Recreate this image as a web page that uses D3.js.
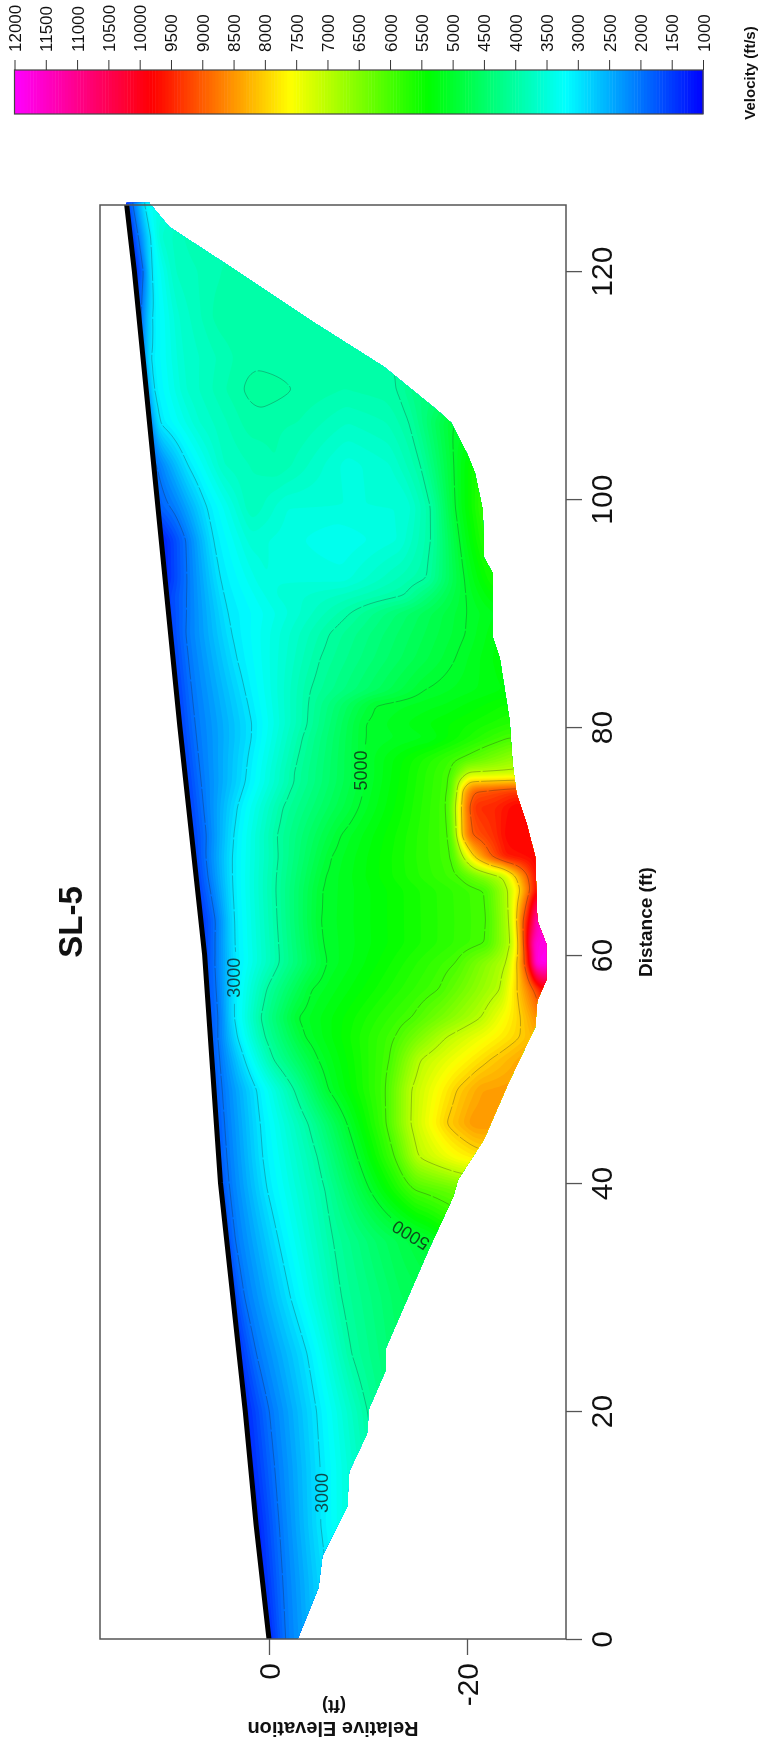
<!DOCTYPE html>
<html>
<head>
<meta charset="utf-8">
<style>
	body { margin: 0; background: #fff; }
	svg { filter: blur(0.4px); }
	text { font-family: "Liberation Sans", Arial, sans-serif; fill: #111; }
</style>
</head>
<body>
<div id="chart"></div>
<script src="https://cdn.jsdelivr.net/npm/d3@7"></script>
<script>

// colour bar
var barTicks = d3.range(1000, 12001, 500);
var barSpeeds = [1000, 3200, 5400, 7600, 9800, 12000];
var barColors = ["#0000ff", "#00ffff", "#00ff00", "#ffff00", "#ff0000", "#ff00ff"];

// ground surface and lower limit of the section (ft)
var surfaceDist = [0, 10, 20, 32, 40, 50, 60, 80, 100, 120, 126];
var surfaceElev = [0, 1.3, 2.4, 3.9, 4.9, 5.7, 6.5, 9, 11.3, 13.6, 14.4];
var bottomDist = [0, 1.7, 4.5, 7.3, 11.6, 14.7, 18, 20.2, 23.6, 25.5, 34.1, 38.8, 40.3, 43.8, 48.8, 53.7, 56, 57.8, 61, 63, 68.6, 71.6, 74.2, 76.8, 80.6, 86.1, 87.9, 93.5, 94.9, 99, 102.3, 104, 106.7, 107.8, 111.6, 115.4, 120.2, 123.9, 126];
var bottomElev = [-2.9, -3.7, -5, -5.4, -7.9, -8.1, -9.9, -10.1, -11.8, -11.8, -16.1, -18.6, -19.1, -21.7, -24.2, -26.9, -27.1, -28, -28, -27.1, -26.9, -26, -25, -24.6, -24.3, -23.3, -22.6, -22.6, -21.7, -21.6, -20.8, -20, -18.4, -17, -11.6, -4.7, 3.6, 10.1, 12.1];

// velocity profiles: depth below surface (ft) and velocity (ft/s) at each station
var stationDist = [0, 5, 10, 15, 20, 25, 30, 35, 39.4, 42.3, 45.2, 48.2, 50.8, 52.8, 54.5, 57, 59.3, 61, 63, 65.7, 66.9, 68.6, 70.5, 73, 74.4, 75.2, 76, 77.2, 79, 80.3, 82, 83.2, 86, 88.2, 90, 91.5, 93, 96.4, 99.3, 103, 106.7, 109.6, 112.4, 116, 120, 123, 126];
var stationDepths = [
	[0, 1.6, 3, 6],
	[0, 2, 6, 12],
	[0, 2.3, 6.5, 12],
	[0, 2.4, 7, 12.5],
	[0, 2.4, 7.2, 12.3, 15],
	[0, 1.7, 6.9, 11.3, 16],
	[0, 1.1, 5.8, 10.9, 17, 22],
	[0, 0.8, 5.2, 10.7, 15, 20.4, 24],
	[0, 0.8, 4.6, 10.5, 15, 19.5, 25],
	[0, 0.8, 4.4, 10, 14, 17.8, 20.1, 24, 27],
	[0, 0.8, 4.4, 9.3, 13.2, 17.2, 19.6, 23.2, 26, 29],
	[0, 0.8, 4.3, 8.1, 11.5, 17.4, 19.9, 24.5, 27, 32],
	[0, 0.8, 3.3, 6.2, 10.7, 18, 21, 28, 31.5],
	[0, 0.8, 2.7, 5.5, 9.5, 18.7, 23.8, 31.3, 33],
	[0, 1, 2.5, 5.2, 8.9, 20.5, 27.5, 31.5, 33.5, 35],
	[0, 1, 2.7, 6, 10.5, 23.5, 29.7, 31.3, 33, 34],
	[0, 1, 3, 7.5, 12.2, 25.3, 30.5, 31.5, 32.2, 32.8, 33.3, 36],
	[0, 1.2, 3.1, 7.6, 12, 28.6, 31.1, 31.8, 32.3, 32.8, 33.3, 36],
	[0, 1.5, 3.3, 7.7, 12, 29, 31.2, 31.9, 32.5, 33.2, 33.9],
	[0, 1.3, 3.5, 7.9, 12.5, 29.1, 31.4, 32.6, 33.6, 34.3],
	[0, 1.2, 3.6, 8.1, 13, 26.6, 31, 32.3, 33.5, 34.5],
	[0, 1.2, 3.8, 8.5, 13.8, 26.1, 27.2, 28.3, 30, 31.5, 35],
	[0, 1.5, 4.2, 8.6, 15, 26.1, 26.8, 27.2, 28.2, 30.5, 32],
	[0, 1.5, 4.9, 9.5, 17.2, 26.2, 27, 27.5, 28.3, 29, 31, 33],
	[0, 1.5, 5.6, 10.4, 17.8, 26.5, 27.4, 27.7, 29, 33],
	[0, 1.5, 6, 10.9, 18.1, 26.7, 27.6, 28.6, 33.5],
	[0, 1.5, 6.2, 11, 18.3, 26.9, 28.7, 33],
	[0, 1.5, 6.5, 11.5, 18.3, 28, 31, 33.5],
	[0, 1.5, 7.1, 12.2, 18.5, 25, 33],
	[0, 1.5, 7.3, 12.9, 18.7, 33.5],
	[0, 1.5, 7.1, 13.2, 19.9, 27, 33],
	[0, 1.5, 6.9, 13.5, 25, 33],
	[0, 1.5, 6.4, 14.8, 28.5, 33.5],
	[0, 1.5, 6.1, 16, 29.8, 33],
	[0, 1.8, 5.9, 18.3, 30.1, 33],
	[0, 2, 5.7, 11, 17, 24, 30.2, 33],
	[0, 2.2, 5.5, 10, 18, 26.5, 30.2, 33],
	[0, 2.5, 5.2, 9, 18, 24, 27.3, 30.1, 32.5],
	[0, 1.8, 4.9, 9.4, 13, 25, 27.6, 30, 33],
	[0, 1.5, 3.4, 7, 12.4, 19.6, 24, 27, 30.3, 32.5],
	[0, 0.9, 5, 10, 15, 20, 24, 26.3, 30.5],
	[0, 0.6, 4, 8, 9.8, 11.4, 14.8, 20, 24, 25.4, 27.4],
	[0, 0.6, 4, 10, 20, 23],
	[0, 1.2, 4, 8, 18],
	[0, 1, 1.6, 4, 10],
	[0, 0.8, 2, 3, 6],
	[0, 1, 2, 5]
];
var stationSpeeds = [
	[1300, 2000, 2300, 3000],
	[1300, 2000, 2900, 4000],
	[1250, 2000, 3000, 4000],
	[1300, 2000, 3000, 4000],
	[1300, 2000, 3000, 4000, 4400],
	[1400, 2000, 3000, 4000, 4500],
	[1500, 2000, 3000, 4000, 4600, 4800],
	[1600, 2000, 3000, 4000, 4500, 5000, 5600],
	[1600, 2000, 3000, 4000, 5000, 6000, 6400],
	[1700, 2000, 3000, 4000, 5000, 6000, 7000, 7600, 7900],
	[1700, 2000, 3000, 4000, 5000, 6000, 7000, 8000, 8500, 8500],
	[1700, 2000, 3000, 4000, 5000, 6000, 7000, 8000, 8400, 8500],
	[1700, 2000, 3000, 4000, 5000, 6000, 7000, 8000, 8400],
	[1700, 2000, 3000, 4000, 5000, 6000, 7000, 8000, 8300],
	[1700, 2000, 3000, 4000, 5000, 6000, 7000, 8000, 8700, 9200],
	[1700, 2000, 3000, 4000, 5000, 6000, 7000, 8000, 9000, 9800],
	[1600, 2000, 3000, 4000, 5000, 6000, 7000, 8000, 9000, 9800, 11800, 12000],
	[1500, 2000, 3000, 4000, 5000, 6000, 7000, 8000, 9000, 9800, 11600, 12000],
	[1400, 2000, 3000, 4000, 5000, 6000, 7000, 8000, 9000, 9800, 11500],
	[1500, 2000, 3000, 4000, 5000, 6000, 7000, 8000, 9000, 9800],
	[1500, 2000, 3000, 4000, 5000, 6000, 7000, 8000, 9000, 9800],
	[1500, 2000, 3000, 4000, 5000, 6000, 7000, 8000, 9000, 9600, 9800],
	[1500, 2000, 3000, 4000, 5000, 6000, 7000, 8000, 9000, 9400, 9800],
	[1500, 2000, 3000, 4000, 5000, 6000, 7000, 8000, 9000, 9400, 9500, 9800],
	[1500, 2000, 3000, 4000, 5000, 6000, 7000, 8000, 9000, 9300],
	[1500, 2000, 3000, 4000, 5000, 6000, 7000, 8000, 8200],
	[1500, 2000, 3000, 4000, 5000, 6000, 7000, 7100],
	[1500, 2000, 3000, 4000, 5000, 6000, 6400, 6700],
	[1500, 2000, 3000, 4000, 5000, 5200, 6000],
	[1500, 2000, 3000, 4000, 5000, 5700],
	[1500, 2000, 3000, 4000, 5000, 5200, 5500],
	[1500, 2000, 3000, 4000, 5000, 5300],
	[1500, 2000, 3000, 4000, 5000, 5400],
	[1500, 2000, 3000, 4000, 5000, 5300],
	[1500, 2000, 3000, 4000, 5000, 5200],
	[1500, 2000, 3000, 3500, 3700, 4000, 5000, 5400],
	[1300, 2000, 3000, 3500, 3450, 4000, 5000, 5600],
	[1200, 2000, 3000, 3550, 3300, 3500, 4000, 5000, 5700],
	[1800, 2100, 3000, 3800, 3500, 3500, 4000, 5000, 5900],
	[1900, 2400, 3000, 3700, 3900, 3450, 3600, 4000, 5000, 5600],
	[2000, 3000, 3600, 3950, 3900, 3700, 3800, 4000, 5000],
	[2000, 3000, 3600, 3900, 4000, 4080, 4000, 3900, 3950, 4000, 4300],
	[2000, 3000, 3600, 3950, 3950, 4000],
	[1700, 3000, 3600, 3950, 4000],
	[1300, 2000, 3000, 3700, 3950],
	[1300, 2000, 3000, 3600, 3850],
	[1500, 2300, 3200, 3700]
];

// contour lines and their labels
var contourLevels = [2000, 3000, 4000, 5000, 6000, 7000, 8000, 9000];
var labelText = ["3000", "3000", "5000", "5000"];
var labelDist = [12.8, 58, 76.2, 35.4];
var labelElev = [-5.3, 3.6, -9.2, -14.3];
var labelAngle = [-90, -90, -90, -148];

// axis ticks
var distTicks = [0, 20, 40, 60, 80, 100, 120];
var elevTicks = [0, -20];

var width = 759, height = 1742;
var plot = { left: 100, right: 566, top: 205, bottom: 1639 };

var svg = d3.select("#chart").append("svg")
	.attr("width", width)
	.attr("height", height)
	.style("display", "block");

var distY = d3.scaleLinear().domain([0, 125.8]).range([plot.bottom, plot.top]);
var elevX = d3.scaleLinear().domain([17.07, -30]).range([plot.left, plot.right]);
var speedColor = d3.scaleLinear().domain(barSpeeds).range(barColors);

var surfaceAt = d3.scaleLinear().domain(surfaceDist).range(surfaceElev).clamp(true);
var profiles = stationDist.map(function(d, i) {
	return d3.scaleLinear().domain(stationDepths[i]).range(stationSpeeds[i]).clamp(true);
});

function speedAt(dist, elev) {
	var depth = surfaceAt(dist) - elev;
	var i = d3.bisectRight(stationDist, dist);
	if (i <= 0) return profiles[0](depth);
	if (i >= stationDist.length) return profiles[stationDist.length - 1](depth);
	var t = (dist - stationDist[i - 1]) / (stationDist[i] - stationDist[i - 1]);
	return profiles[i - 1](depth) * (1 - t) + profiles[i](depth) * t;
}

// sample the profiles on a screen grid so d3.contours can trace the bands
var cell = 2, pad = 6;
var cols = Math.ceil((plot.right - plot.left) / cell) + 2 * pad;
var rows = Math.ceil((plot.bottom - plot.top) / cell) + 2 * pad;
var grid = new Float64Array(cols * rows);
for (var r = 0; r < rows; r++) {
	for (var c = 0; c < cols; c++) {
		var px = plot.left + (c - pad + 0.5) * cell;
		var py = plot.top + (r - pad + 0.5) * cell;
		grid[r * cols + c] = speedAt(distY.invert(py), elevX.invert(px));
	}
}
d3.blur2({ data: grid, width: cols, height: rows }, 1);

var toScreen = d3.geoPath(d3.geoIdentity()
	.scale(cell)
	.translate([plot.left - pad * cell, plot.top - pad * cell]));

// section outline, used as the clip for the colours
var outline = d3.line()(
	surfaceDist.map(function(d, i) { return [elevX(surfaceElev[i]), distY(d)]; })
		.concat(bottomDist.map(function(d, i) { return [elevX(bottomElev[i]), distY(d)]; }).reverse())
) + "Z";

svg.append("clipPath").attr("id", "section").append("path").attr("d", outline);

var bands = d3.range(1000, 12000, 100);
svg.append("g")
	.attr("clip-path", "url(#section)")
	.selectAll("path")
	.data(d3.contours().size([cols, rows]).thresholds(bands)(grid))
	.join("path")
	.attr("d", toScreen)
	.attr("fill", function(d) { return speedColor(d.value + 50); });

// gaps in the contour lines under the labels
var mask = svg.append("mask").attr("id", "label-gaps")
	.attr("maskUnits", "userSpaceOnUse")
	.attr("x", 0).attr("y", 0).attr("width", width).attr("height", height);
mask.append("rect").attr("width", width).attr("height", height).attr("fill", "#fff");
mask.selectAll("rect.gap")
	.data(labelText)
	.join("rect")
	.attr("class", "gap")
	.attr("x", -26).attr("y", -10).attr("width", 52).attr("height", 20)
	.attr("fill", "#000")
	.attr("transform", function(d, i) {
		return "translate(" + elevX(labelElev[i]) + "," + distY(labelDist[i]) + ") rotate(" + labelAngle[i] + ")";
	});

svg.append("g")
	.attr("clip-path", "url(#section)")
	.append("g")
	.attr("mask", "url(#label-gaps)")
	.selectAll("path")
	.data(d3.contours().size([cols, rows]).thresholds(contourLevels)(grid))
	.join("path")
	.attr("d", toScreen)
	.attr("fill", "none")
	.attr("stroke", "#222")
	.attr("stroke-opacity", 0.36)
	.attr("stroke-width", 0.8)
	.attr("stroke-dasharray", "34 2");

svg.selectAll("text.contour-label")
	.data(labelText)
	.join("text")
	.attr("class", "contour-label")
	.attr("font-size", 18)
	.attr("text-anchor", "middle")
	.attr("dy", "0.36em")
	.attr("fill-opacity", 0.75)
	.attr("transform", function(d, i) {
		return "translate(" + elevX(labelElev[i]) + "," + distY(labelDist[i]) + ") rotate(" + labelAngle[i] + ")";
	})
	.text(function(d) { return d; });

svg.append("clipPath").attr("id", "frame-clip").append("rect")
	.attr("x", plot.left).attr("y", plot.top)
	.attr("width", plot.right - plot.left).attr("height", plot.bottom - plot.top);

// ground surface
svg.append("path")
	.attr("d", d3.line()(surfaceDist.map(function(d, i) { return [elevX(surfaceElev[i]), distY(d)]; })))
	.attr("fill", "none")
	.attr("stroke", "#000")
	.attr("stroke-width", 5)
	.attr("clip-path", "url(#frame-clip)");

// frame and axes
svg.append("rect")
	.attr("x", plot.left).attr("y", plot.top)
	.attr("width", plot.right - plot.left).attr("height", plot.bottom - plot.top)
	.attr("fill", "none")
	.attr("stroke", "#555")
	.attr("stroke-width", 1.5);

var distAxis = svg.append("g")
	.attr("transform", "translate(" + plot.right + ",0)")
	.call(d3.axisRight(distY).tickValues(distTicks).tickSize(16).tickFormat(d3.format("d")));
distAxis.select(".domain").remove();
distAxis.selectAll("line").attr("stroke", "#555").attr("stroke-width", 1.3);
distAxis.selectAll("text")
	.attr("x", 0).attr("dy", 0)
	.attr("text-anchor", "middle")
	.attr("font-size", 30)
	.attr("font-family", "Liberation Sans")
	.attr("transform", "translate(46,0) rotate(-90)");

var elevAxis = svg.append("g")
	.attr("transform", "translate(0," + plot.bottom + ")")
	.call(d3.axisBottom(elevX).tickValues(elevTicks).tickSize(16).tickFormat(function(d) { return d === 0 ? "0" : "-" + Math.abs(d); }));
elevAxis.select(".domain").remove();
elevAxis.selectAll("line").attr("stroke", "#555").attr("stroke-width", 1.3);
elevAxis.selectAll("text")
	.attr("y", 0).attr("dy", 0)
	.attr("text-anchor", "end")
	.attr("font-size", 30)
	.attr("font-family", "Liberation Sans")
	.attr("transform", "translate(11,24) rotate(-90)");

// colour bar
var barX = d3.scaleLinear().domain([12000, 1000]).range([14.5, 703]);
var barTop = 70, barBottom = 114;
svg.append("g")
	.selectAll("rect")
	.data(d3.range(1000, 12000, 50))
	.join("rect")
	.attr("x", function(d) { return barX(d + 50); })
	.attr("y", barTop)
	.attr("width", barX(0) - barX(50) + 0.5)
	.attr("height", barBottom - barTop)
	.attr("fill", function(d) { return speedColor(d + 25); });
svg.append("rect")
	.attr("x", barX(12000)).attr("y", barTop)
	.attr("width", barX(1000) - barX(12000)).attr("height", barBottom - barTop)
	.attr("fill", "none").attr("stroke", "#444").attr("stroke-width", 1.2);

var barAxis = svg.append("g")
	.attr("transform", "translate(0," + barTop + ")")
	.call(d3.axisTop(barX).tickValues(barTicks).tickSize(10).tickFormat(d3.format("d")));
barAxis.select(".domain").remove();
barAxis.selectAll("line").attr("stroke", "#333").attr("stroke-width", 1);
barAxis.selectAll("text")
	.attr("x", 0).attr("y", 0).attr("dy", 0)
	.attr("text-anchor", "start")
	.attr("font-size", 17)
	.attr("font-family", "Liberation Sans")
	.attr("transform", "translate(6,-18) rotate(-90)");

// titles
function label(txt, x, y, size, angle, weight) {
	svg.append("text")
		.attr("transform", "translate(" + x + "," + y + ") rotate(" + angle + ")")
		.attr("text-anchor", "middle")
		.attr("font-size", size)
		.attr("font-weight", weight || "bold")
		.text(txt);
}
label("SL-5", 82, 922, 33, -90);
label("Distance (ft)", 652, 922, 19, -90);
label("Velocity (ft/s)", 755, 73, 15, -90);
label("Relative Elevation", 333, 1722, 20, 180);
label("(ft)", 334, 1700, 18, 180);

</script>
</body>
</html>
